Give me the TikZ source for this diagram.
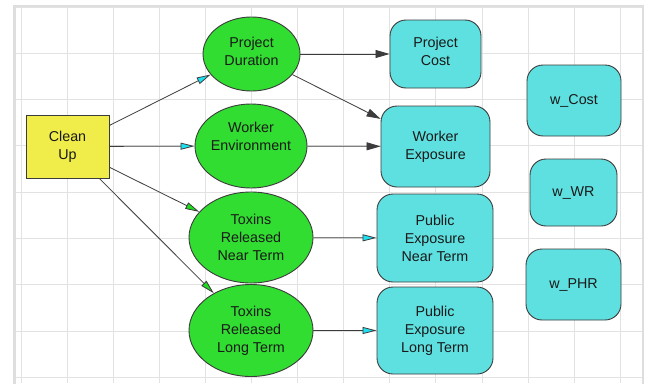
\documentclass[tikz,border=0pt]{standalone}
\usepackage{fontspec}
\setmainfont{Liberation Sans}
\usetikzlibrary{shapes.geometric,arrows.meta}
\definecolor{gridc}{RGB}{226,226,226}
\definecolor{framec}{RGB}{222,222,222}
\definecolor{yel}{RGB}{240,236,74}
\definecolor{grn}{RGB}{48,221,48}
\definecolor{cyn}{RGB}{94,224,224}
\definecolor{cyntip}{RGB}{30,225,240}
\definecolor{grntip}{RGB}{30,220,30}
\definecolor{edgec}{RGB}{60,60,60}
\definecolor{txt}{RGB}{25,25,25}
\tikzset{
  tfont/.style={font=\fontsize{14.3}{18}\selectfont, text=txt, align=center},
  base/.style={draw=edgec, line width=0.9pt, tfont, inner sep=0pt},
  lbl/.style={tfont, inner sep=0pt},
  decision/.style={base, fill=yel, rectangle, minimum width=83pt, minimum height=63pt},
  chance/.style={base, fill=grn, ellipse},
  valuebox/.style={base, fill=cyn, rectangle, rounded corners=16pt},
  link/.style={draw=edgec, line width=0.8pt},
  cyanarrow/.style={link, -{Triangle[length=14pt,width=7pt,fill=cyntip]}},
  greenarrow/.style={link, -{Triangle[length=14pt,width=7pt,fill=grntip]}},
  blackarrow/.style={link, -{Triangle[length=14pt,width=8pt]}},
}
\begin{document}
\begin{tikzpicture}[x=1pt,y=-1pt]
\useasboundingbox (0,0) rectangle (645,383);
\fill[white] (0,0) rectangle (645,383);
% grid
\begin{scope}
\clip (14.5,6) rectangle (643,383);
\foreach \i in {0,...,13} {\draw[gridc, line width=0.9pt] (21+46.1*\i,0) -- (21+46.1*\i,383);}
\foreach \j in {0,...,8} {\draw[gridc, line width=0.9pt] (0,7+46.3*\j) -- (645,7+46.3*\j);}
\end{scope}
\draw[framec, line width=2.4pt] (14.5,395) -- (14.5,6) -- (643,6) -- (643,395);

% nodes
\node[decision] (clean) at (67.5,146.5) {Clean\\Up};
\node[chance, minimum width=97pt, minimum height=74pt] (pdur) at (251.5,54) {};
\node[lbl] (pdurtext) at ([yshift=3pt]pdur.center) {Project\\Duration};
\node[chance, minimum width=112pt, minimum height=84pt] (wenv) at (251,146) {};
\node[lbl] (wenvtext) at ([yshift=10pt]wenv.center) {Worker\\Environment};
\node[chance, minimum width=124pt, minimum height=91pt] (tnear) at (251,237.5) {Toxins\\Released\\Near Term};
\node[chance, minimum width=124pt, minimum height=92pt] (tlong) at (251,330.5) {Toxins\\Released\\Long Term};

\node[valuebox, minimum width=91pt, minimum height=68pt] (pcost) at (435.5,54) {};
\node[lbl] (pcosttext) at ([yshift=3pt]pcost.center) {Project\\Cost};
\node[valuebox, minimum width=109pt, minimum height=81pt] (wexp) at (435.5,146.5) {Worker\\Exposure};
\node[valuebox, minimum width=116pt, minimum height=88pt] (pnear) at (435,238) {Public\\Exposure\\Near Term};
\node[valuebox, minimum width=116pt, minimum height=87pt] (plong) at (435,330.5) {Public\\Exposure\\Long Term};

\node[valuebox, minimum width=94pt, minimum height=71pt] (wcost) at (574,100.5) {w\_Cost};
\node[valuebox, minimum width=87pt, minimum height=67pt] (wwr) at (573.5,192.5) {w\_WR};
\node[valuebox, minimum width=95pt, minimum height=71pt] (wphr) at (573.5,284.5) {w\_PHR};

% links
\draw[cyanarrow] (clean) -- (pdur);
\draw[cyanarrow] (clean) -- (wenv);
\draw[greenarrow] (clean) -- (tnear);
\draw[greenarrow] (clean) -- (tlong);
\draw[blackarrow] (pdur) -- (pcost);
\draw[blackarrow] (pdur) -- (wexp);
\draw[blackarrow] (wenv) -- (wexp);
\draw[cyanarrow] (tnear) -- (pnear);
\draw[cyanarrow] (tlong) -- (plong);
\end{tikzpicture}
\end{document}
